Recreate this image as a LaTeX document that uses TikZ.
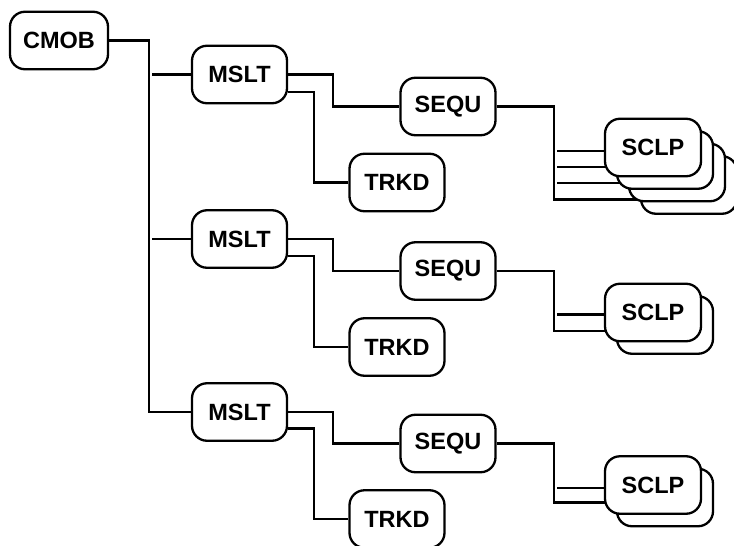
\documentclass[tikz,border=0pt]{standalone}
\usepackage{fontspec}
\setmainfont{Liberation Sans}
\usetikzlibrary{backgrounds}
\begin{document}
\begin{tikzpicture}[x=1pt,y=-1pt,
  box/.style={draw, line width=2.3pt, rounded corners=15pt, fill=white,
    minimum width=95pt, minimum height=57.5pt, inner sep=0pt,
    font=\fontsize{23.5}{28}\selectfont\bfseries},
  wire/.style={line width=2.3pt}]
\useasboundingbox (0,0) rectangle (734,546);

% main nodes
\node[box, minimum width=98pt] (cmob) at (59,40.5) {CMOB};

\node[box] (mslt1) at (239.5,74.5) {MSLT};
\node[box] (sequ1) at (448,106.5) {SEQU};
\node[box] (trkd1) at (397,182.5) {TRKD};

\node[box] (mslt2) at (239.5,239) {MSLT};
\node[box] (sequ2) at (448,271) {SEQU};
\node[box] (trkd2) at (397,347) {TRKD};

\node[box] (mslt3) at (239.5,412) {MSLT};
\node[box] (sequ3) at (448,443.5) {SEQU};
\node[box] (trkd3) at (397,519) {TRKD};

% SCLP stacks (back to front)
\node[box, minimum width=96pt] (sclp1d) at (689,185) {};
\node[box, minimum width=96pt] (sclp1c) at (677,172.5) {};
\node[box, minimum width=96pt] (sclp1b) at (665,160) {};
\node[box, minimum width=96pt] (sclp1)  at (653,147.5) {SCLP};

\node[box, minimum width=96pt] (sclp2b) at (665,325) {};
\node[box, minimum width=96pt] (sclp2)  at (653,312.5) {SCLP};

\node[box, minimum width=96pt] (sclp3b) at (665,497.5) {};
\node[box, minimum width=96pt] (sclp3)  at (653,485) {SCLP};

\coordinate (busx) at (149,0);
\coordinate (stubx) at (152,0);

\begin{scope}[on background layer]
% CMOB bus
\draw[wire] (cmob.east) -| (busx |- mslt3.west) -- (mslt3.west);
\draw[wire] (stubx |- mslt1.west) -- (mslt1.west);
\draw[wire] (stubx |- mslt2.west) -- (mslt2.west);

% MSLT -> SEQU / TRKD
\draw[wire] (mslt1.east) -- ++(45,0) |- (sequ1.west);
\draw[wire] ([yshift=-17.5pt]mslt1.east) -- ++(26,0) |- (trkd1.west);
\draw[wire] (mslt2.east) -- ++(45,0) |- (sequ2.west);
\draw[wire] ([yshift=-17pt]mslt2.east) -- ++(26,0) |- (trkd2.west);
\draw[wire] (mslt3.east) -- ++(45,0) |- (sequ3.west);
\draw[wire] ([yshift=-16.5pt]mslt3.east) -- ++(26,0) |- (trkd3.west);

% SEQU -> SCLP stacks
\coordinate (v1) at (554,199.5);
\draw[wire] (sequ1.east) -| (v1) -- (v1 -| sclp1d.center);
\draw[wire] (557,151) -- (sclp1.center |- 0,151);
\draw[wire] (557,167) -- (sclp1b.center |- 0,167);
\draw[wire] (557,183) -- (sclp1c.center |- 0,183);

\coordinate (v2) at (554,331);
\draw[wire] (sequ2.east) -| (v2) -- (v2 -| sclp2b.center);
\draw[wire] (557,314.5) -- (sclp2.center |- 0,314.5);

\coordinate (v3) at (554,502.5);
\draw[wire] (sequ3.east) -| (v3) -- (v3 -| sclp3b.center);
\draw[wire] (557,488) -- (sclp3.center |- 0,488);
\end{scope}
\end{tikzpicture}
\end{document}
